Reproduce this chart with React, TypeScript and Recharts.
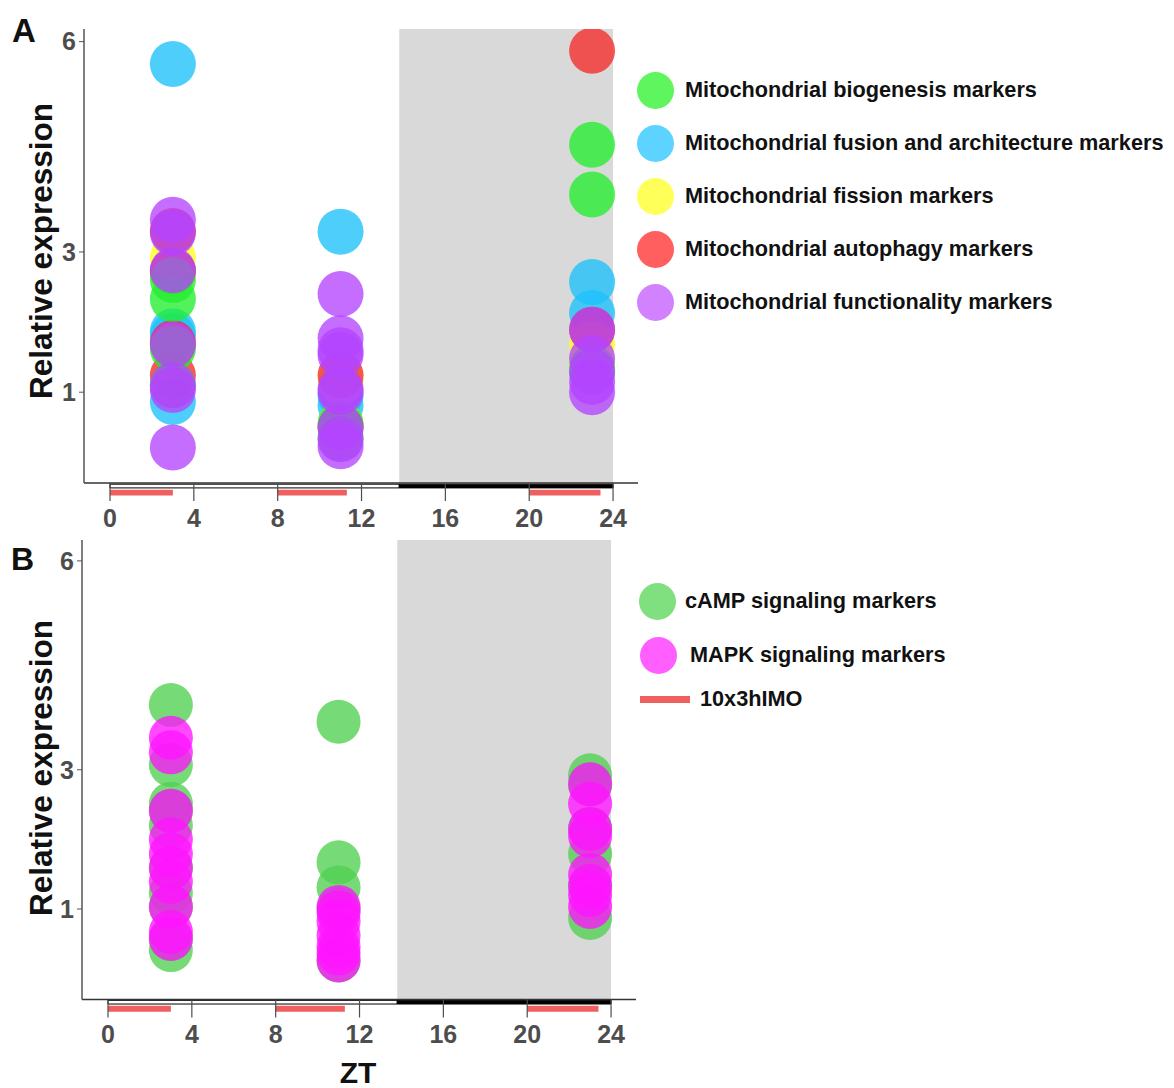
import React from 'react'
import { ScatterChart, Scatter, XAxis, YAxis, ReferenceArea } from 'recharts'

const FONT = '"Liberation Sans", Arial, Helvetica, sans-serif'

const ZT_TICKS = [0, 4, 8, 12, 16, 20, 24]
const EXPR_TICKS = [1, 3, 6]

// light / dark phase and the IMO sessions, in ZT hours
const LIGHT_PHASE = [0, 13.8]
const DARK_PHASE = [13.8, 24]
const IMO_SESSIONS = [[0, 3], [8, 11.3], [20, 23.4]]

// panel A, [ZT, relative expression]
const fusion = [
  [3, 5.68], [3, 1.87], [3, 1.8], [3, 0.86], [3, 2.74],
  [11, 3.29], [11, 0.81], [11, 0.95],
  [23, 2.57], [23, 2.13], [23, 1.3],
]
const fission = [
  [3, 2.92], [3, 2.7], [3, 1.65],
  [11, 0.55], [11, 1.15],
  [23, 1.68], [23, 1.4],
]
const autophagy = [
  [3, 3.3], [3, 2.72], [3, 1.7], [3, 1.24],
  [11, 1.24], [11, 0.5],
  [23, 5.87], [23, 1.89],
]
const biogenesis = [
  [3, 2.33], [3, 2.6], [3, 1.62], [3, 1.1],
  [11, 0.55], [11, 0.35],
  [23, 4.53], [23, 3.82], [23, 1.35],
]
const functionality = [
  [3, 3.46], [3, 3.27], [3, 2.74], [3, 1.68], [3, 1.1], [3, 1.03], [3, 0.21],
  [11, 2.4], [11, 1.77], [11, 1.6], [11, 1.53], [11, 1.05], [11, 1.0], [11, 0.5], [11, 0.33], [11, 0.23],
  [23, 1.89], [23, 1.48], [23, 1.29], [23, 1.15], [23, 1.0],
]

// panel B
const camp = [
  [3, 3.93], [3, 3.07], [3, 2.51], [3, 2.41], [3, 2.2], [3, 1.59], [3, 1.23], [3, 1.03], [3, 0.57], [3, 0.41],
  [11, 3.69], [11, 1.67], [11, 1.31], [11, 1.0], [11, 0.26],
  [23, 2.92], [23, 2.79], [23, 2.15], [23, 1.79], [23, 1.33], [23, 0.87],
]
const mapk = [
  [3, 3.46], [3, 3.25], [3, 2.41], [3, 2.0], [3, 1.79], [3, 1.59], [3, 1.39], [3, 1.03], [3, 0.67], [3, 0.57],
  [11, 1.03], [11, 0.95], [11, 0.82], [11, 0.62], [11, 0.45], [11, 0.36], [11, 0.26],
  [23, 2.79], [23, 2.51], [23, 2.15], [23, 2.05], [23, 1.49], [23, 1.33], [23, 1.2], [23, 1.03],
]

const toPoints = (d: number[][]) => d.map(([x, y]) => ({ x, y }))

const seriesA = [
  { name: 'Mitochondrial fusion and architecture markers', color: '#1cc2fa', swatch: '#5cd4ff', data: fusion },
  { name: 'Mitochondrial fission markers', color: '#ffff20', swatch: '#ffff5a', data: fission },
  { name: 'Mitochondrial autophagy markers', color: '#f52a2a', swatch: '#ff5f5f', data: autophagy },
  { name: 'Mitochondrial biogenesis markers', color: '#22ee30', swatch: '#5ef55e', data: biogenesis },
  { name: 'Mitochondrial functionality markers', color: '#b444ff', swatch: '#d282ff', data: functionality },
]
const legendA = [3, 0, 1, 2, 4]

const seriesB = [
  { name: 'cAMP signaling markers', color: '#50d050', swatch: '#80e080', data: camp },
  { name: 'MAPK signaling markers', color: '#ff14ff', swatch: '#ff5fff', data: mapk },
]

const IMO_COLOR = '#ef5f5f'
const X_DOMAIN = [-1.24, 25.19]

const bubble = (r: number, color: string) => (p: any) => (
  <circle cx={p.cx} cy={p.cy} r={r} fill={color} fillOpacity={0.78} />
)

const tickStyle = { fill: '#4d4d4d', fontSize: 25, fontWeight: 700, fontFamily: FONT }

function Panel({ series, yDomain, margin, radius }: any) {
  return (
    <ScatterChart width={1174} height={545} margin={margin}>
      <XAxis
        type="number"
        dataKey="x"
        domain={X_DOMAIN}
        ticks={ZT_TICKS}
        allowDataOverflow
        height={56}
        tickSize={18}
        tickMargin={8}
        tick={tickStyle}
        axisLine={{ stroke: '#333', strokeWidth: 1.5 }}
        tickLine={{ stroke: '#4d4d4d', strokeWidth: 1.2 }}
      />
      <YAxis
        type="number"
        dataKey="y"
        domain={yDomain}
        ticks={EXPR_TICKS}
        allowDataOverflow
        width={60}
        tickSize={5}
        tickMargin={3}
        tick={tickStyle}
        axisLine={{ stroke: '#555', strokeWidth: 1.5 }}
        tickLine={{ stroke: '#555' }}
      />
      <ReferenceArea x1={DARK_PHASE[0]} x2={DARK_PHASE[1]} y1={yDomain[0]} y2={yDomain[1]} fill="#d9d9d9" fillOpacity={1} stroke="none" />
      <ReferenceArea x1={LIGHT_PHASE[0]} x2={LIGHT_PHASE[1]} y1={-0.312} y2={-0.365} fill="#fff" fillOpacity={1} stroke="#000" strokeWidth={1} ifOverflow="visible" />
      <ReferenceArea x1={DARK_PHASE[0]} x2={DARK_PHASE[1]} y1={-0.312} y2={-0.365} fill="#000" fillOpacity={1} stroke="#000" ifOverflow="visible" />
      {IMO_SESSIONS.map(([a, b]) => (
        <ReferenceArea key={a} x1={a} x2={b} y1={-0.39} y2={-0.475} fill={IMO_COLOR} fillOpacity={1} stroke="none" ifOverflow="visible" />
      ))}
      {series.map((s: any) => (
        <Scatter key={s.name} name={s.name} data={toPoints(s.data)} shape={bubble(radius, s.color)} isAnimationActive={false} />
      ))}
    </ScatterChart>
  )
}

const textBase: React.CSSProperties = { position: 'absolute', fontFamily: FONT, fontWeight: 700, color: '#111', whiteSpace: 'nowrap', lineHeight: 1 }

function YTitle({ cx, cy }: { cx: number; cy: number }) {
  return (
    <div style={{ ...textBase, left: cx, top: cy, fontSize: 31.5, transform: 'translate(-50%, -50%) rotate(-90deg)' }}>
      Relative expression
    </div>
  )
}

function LegendRow({ cy, x, swatch, label, textX }: any) {
  return (
    <>
      <div style={{ position: 'absolute', left: x - 18.5, top: cy - 18.5, width: 37, height: 37, borderRadius: '50%', background: swatch }} />
      <div style={{ ...textBase, left: textX, top: cy, fontSize: 21.7, transform: 'translateY(-50%)' }}>{label}</div>
    </>
  )
}

export default function App() {
  return (
    <div style={{ position: 'absolute', left: 0, top: 0, width: 1174, height: 1088, background: '#fff', overflow: 'hidden' }}>
      <div style={{ position: 'absolute', left: 0, top: 0 }}>
        <Panel series={seriesA} yDomain={[-0.295, 6.18]} margin={{ top: 29, right: 536, bottom: 6, left: 24 }} radius={23} />
      </div>
      <div style={{ position: 'absolute', left: 0, top: 512 }}>
        <Panel series={seriesB} yDomain={[-0.3, 6.3]} margin={{ top: 28, right: 538, bottom: 1.5, left: 22 }} radius={22} />
      </div>

      <div style={{ ...textBase, left: 12, top: 14, fontSize: 33 }}>A</div>
      <div style={{ ...textBase, left: 11, top: 543, fontSize: 32 }}>B</div>
      <YTitle cx={42} cy={251} />
      <YTitle cx={42} cy={768} />
      <div style={{ ...textBase, left: 358, top: 1073, fontSize: 30, transform: 'translate(-50%, -50%)' }}>ZT</div>

      {legendA.map((i, k) => (
        <LegendRow key={i} cy={90 + k * 53} x={655} textX={685} swatch={seriesA[i].swatch} label={seriesA[i].name} />
      ))}

      <LegendRow cy={601} x={657} textX={685} swatch={seriesB[0].swatch} label={seriesB[0].name} />
      <LegendRow cy={655} x={658} textX={690} swatch={seriesB[1].swatch} label={seriesB[1].name} />
      <div style={{ position: 'absolute', left: 640, top: 696, width: 50, height: 7, background: IMO_COLOR }} />
      <div style={{ ...textBase, left: 700, top: 699, fontSize: 21.7, transform: 'translateY(-50%)' }}>10x3hIMO</div>
    </div>
  )
}
